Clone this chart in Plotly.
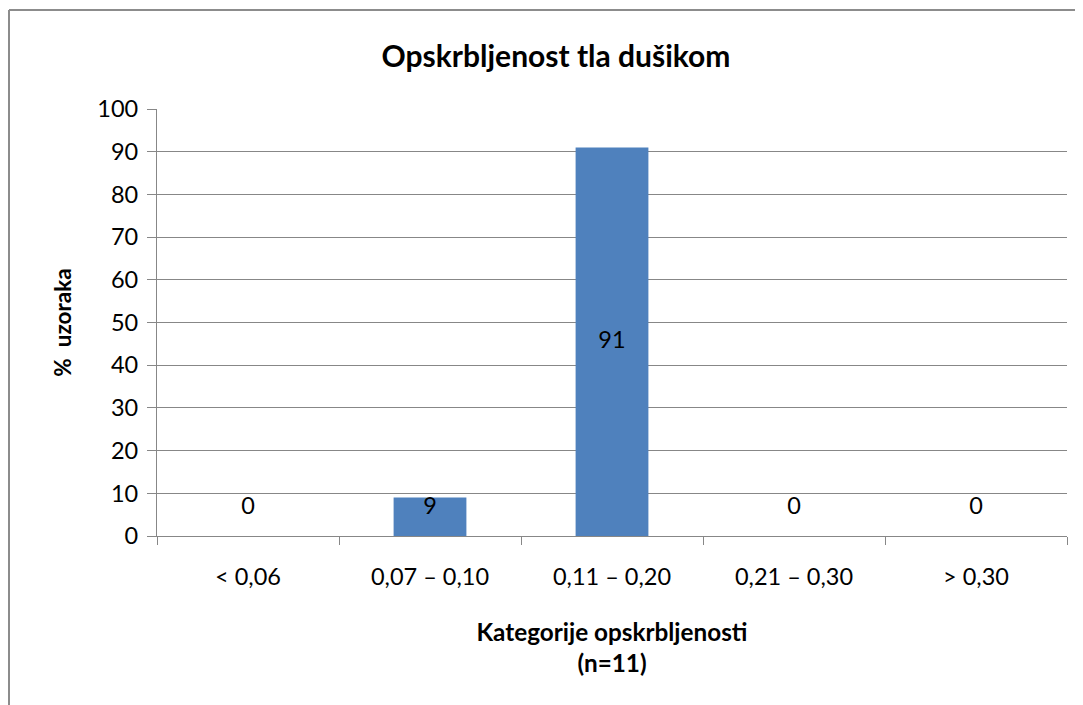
import plotly.graph_objects as go

categories = ["< 0,06", "0,07 – 0,10", "0,11 – 0,20", "0,21 – 0,30", "> 0,30"]
values = [0, 9, 91, 0, 0]
y_ticks = list(range(0, 101, 10))

FONT = "Lato, Carlito, Calibri, sans-serif"
GRID = "#878787"

fig = go.Figure()
fig.add_trace(go.Bar(
    x=categories, y=values, width=0.4,
    marker=dict(color="#4F81BD", line=dict(width=0)),
    hoverinfo="skip",
))

label_y = [max(v / 2, 6.6) for v in values]
fig.add_trace(go.Scatter(
    x=categories, y=label_y, mode="text",
    text=[str(v) for v in values],
    textfont=dict(family=FONT, size=23.5, color="black"),
    hoverinfo="skip",
))

fig.update_layout(
    width=1075, height=697,
    margin=dict(l=149, r=16, t=101, b=169),
    paper_bgcolor="white", plot_bgcolor="white",
    showlegend=False,
    font=dict(family=FONT, color="black"),
    title=dict(text="<b>Opskrbljenost tla dušikom</b>", x=(556 - 8) / 1075, xanchor="center",
               y=1 - (56 - 8) / 697, yanchor="middle",
               font=dict(family=FONT, size=30, color="black")),
)
fig.update_xaxes(
    type="category",
    showline=True, linecolor=GRID, linewidth=1.3,
    ticks="outside", tickson="boundaries", ticklen=8, tickcolor=GRID, tickwidth=1.3,
    tickfont=dict(family=FONT, size=23.5, color="black"),
    ticklabelstandoff=20,
    showgrid=False,
    title=dict(text="<b>Kategorije opskrbljenosti<br>(n=11)</b>",
               font=dict(family=FONT, size=24.3, color="black"), standoff=34),
)
fig.update_yaxes(
    range=[0, 100], tickvals=y_ticks,
    showline=True, linecolor=GRID, linewidth=1.3,
    ticks="outside", ticklen=9, tickcolor=GRID, tickwidth=1.3,
    tickfont=dict(family=FONT, size=23.5, color="black"),
    ticklabelstandoff=4,
    showgrid=True, gridcolor=GRID, gridwidth=1.3,
    zeroline=False,
    title=dict(text="<b>%  uzoraka</b>", font=dict(family=FONT, size=22.5, color="black"),
               standoff=19),
)
x_left = (9 - 157) / 910
y_top = (536 - 10) / 427
fig.add_shape(type="line", xref="paper", yref="paper",
              x0=x_left, x1=x_left, y0=-0.5, y1=y_top,
              line=dict(color="#8c8c8c", width=2), layer="below")
fig.add_shape(type="line", xref="paper", yref="paper",
              x0=x_left, x1=1.3, y0=y_top, y1=y_top,
              line=dict(color="#8c8c8c", width=2), layer="below")

fig.write_html("out.html")
